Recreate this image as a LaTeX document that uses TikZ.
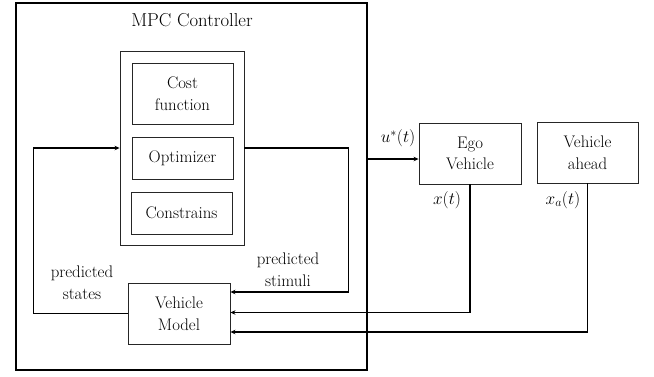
\documentclass[tikz,border=0pt]{standalone}
\usepackage{fontspec}
\usetikzlibrary{arrows.meta,calc}
\tikzset{
  box/.style={draw=black!85, line width=0.9pt, minimum width=#1, inner sep=0pt, align=center, font=\fontsize{16.8}{21.5}\selectfont},
  conn/.style={draw=black, line width=1.1pt},
  arr/.style={conn, -{Stealth[length=5pt,width=4.5pt]}},
  lbl/.style={align=center, inner sep=0pt, font=\fontsize{16.8}{22}\selectfont},
  mlbl/.style={inner sep=0pt, font=\fontsize{18.5}{22}\selectfont}
}
\begin{document}
\begin{tikzpicture}[x=1pt,y=-1pt]
\useasboundingbox (0,0) rectangle (654,376);
% outer MPC box
\node[draw=black, line width=2.2pt, minimum width=351pt, minimum height=367pt, inner sep=0pt] (mpc) at (191.5,186.5) {};
\node[lbl, font=\fontsize{18.7}{24}\selectfont] (title) at (192,20) {MPC Controller};
% inner container
\node[box=124pt, minimum height=194pt] (inner) at (182,148) {};
\node[box=101pt, minimum height=61pt] (cost) at (182.5,93.5) {Cost\\function};
\node[box=101pt, minimum height=42pt] (opt) at (182.5,158) {Optimizer};
\node[box=101pt, minimum height=42pt] (con) at (181.5,213) {Constrains};
% vehicle model
\node[box=102pt, minimum height=61pt] (vm) at (179,313.5) {Vehicle\\Model};
% external blocks
\node[box=102pt, minimum height=61pt] (ego) at (470,153.5) {Ego\\Vehicle};
\node[box=101pt, minimum height=61pt] (ahead) at (587.5,152.5) {Vehicle\\ahead};
% connectors
\draw[arr] (vm.west) -- ++(-94,0) |- (inner.west);
\draw[arr] (inner.east) -- ++(104,0) |- ($(vm.east)+(0,-21.5)$);
\coordinate (uy) at (0,159);
\draw[arr] (mpc.east |- uy) -- (uy -| ego.west);
\draw[arr] (ego.south) |- ($(vm.east)+(0,-1)$);
\draw[arr] (ahead.south) |- ($(vm.east)+(0,18.5)$);
% labels
\node[lbl] (stim) at (288,270) {predicted\\stimuli};
\node[lbl] (states) at (82,283) {predicted\\states};
\node[mlbl] (ulbl) at (398,138) {$u^{*}(t)$};
\node[mlbl] (xlbl) at (447,200) {$x(t)$};
\node[mlbl] (xalbl) at (563,200) {$x_{a}(t)$};
\end{tikzpicture}
\end{document}
